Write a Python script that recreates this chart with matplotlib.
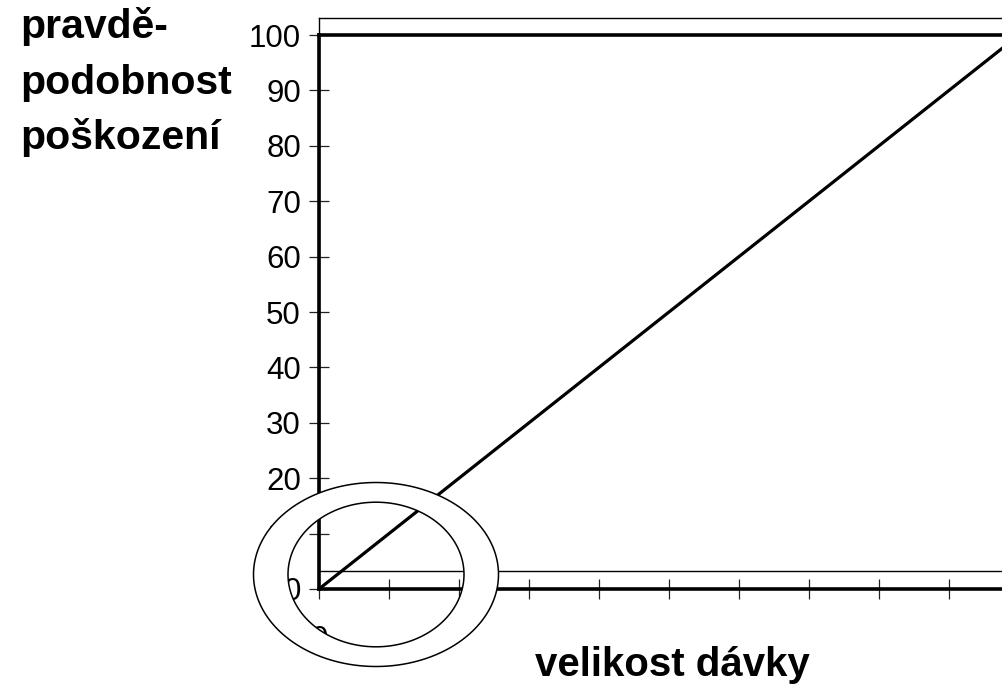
import numpy as np
import matplotlib
matplotlib.use("Agg")
from matplotlib import pyplot as plt
from matplotlib.path import Path
from matplotlib.patches import PathPatch

# data
dose = [0, 10]
prob = [0, 100]
y_ticks = [0, 10, 20, 30, 40, 50, 60, 70, 80, 90, 100]
x_ticks = [0, 1, 2, 3, 4, 5, 6, 7, 8, 9, 10]
x_ticklabels = ['0', '', '', '', '', '', '', '', '', '', '']
ylabel_lines = ['pravdě-', 'podobnost', 'poškození']
xlabel = 'velikost dávky'

W, H = 1002, 693
plt.rcParams['font.family'] = ['Liberation Sans', 'DejaVu Sans']

fig = plt.figure(figsize=(W / 100, H / 100), dpi=100)

def fx(px):
    return px / W

def fy(py):
    return (H - py) / H

# thin outer frame behind the chart
frame = fig.add_axes([fx(319), fy(571), fx(1100 - 319), fy(18) - fy(571)])
frame.set_xticks([])
frame.set_yticks([])
for s in frame.spines.values():
    s.set_linewidth(1.0)

# main axes: 70 px per dose unit, x extends past the right edge
ax = fig.add_axes([fx(319), fy(589), fx(11 * 70), fy(35) - fy(589)])
ax.patch.set_alpha(0)
ax.plot(dose, prob, color='black', lw=2.3, solid_capstyle='butt')
ax.set_xlim(0, 11)
ax.set_ylim(0, 100)
ax.set_yticks(y_ticks)
ax.set_xticks(x_ticks)
ax.set_xticklabels(x_ticklabels)
ax.tick_params(axis='both', direction='inout', length=14, width=0.9,
               labelsize=22.5, color='#222222')
ax.tick_params(axis='y', pad=6)
ax.tick_params(axis='x', pad=19)
for s in ax.spines.values():
    s.set_linewidth(2.6)

# labels
for i, line in enumerate(ylabel_lines):
    fig.text(fx(20), fy(38 + 55.5 * i), line, fontsize=29.5, fontweight='bold',
             ha='left', va='baseline')
fig.text(fx(672), fy(676), xlabel, fontsize=29, fontweight='bold',
         ha='center', va='baseline')

# white ring with black outlines over the origin
t = np.linspace(0, 2 * np.pi, 200)
cx, cy = 376, 574.5
ox, oy = cx + 122.5 * np.cos(t), cy + 92 * np.sin(t)
ix, iy = cx + 88 * np.cos(t[::-1]), cy + 72.3 * np.sin(t[::-1])
verts = np.concatenate([np.column_stack([fx(ox), fy(oy)]),
                        np.column_stack([fx(ix), fy(iy)])])
codes = ([Path.MOVETO] + [Path.LINETO] * (len(t) - 2) + [Path.CLOSEPOLY]) * 2
ring = PathPatch(Path(verts, codes), facecolor='white', edgecolor='black',
                 lw=1.1, transform=fig.transFigure, zorder=10)
fig.patches.append(ring)

fig.savefig('out.png', dpi=100)
